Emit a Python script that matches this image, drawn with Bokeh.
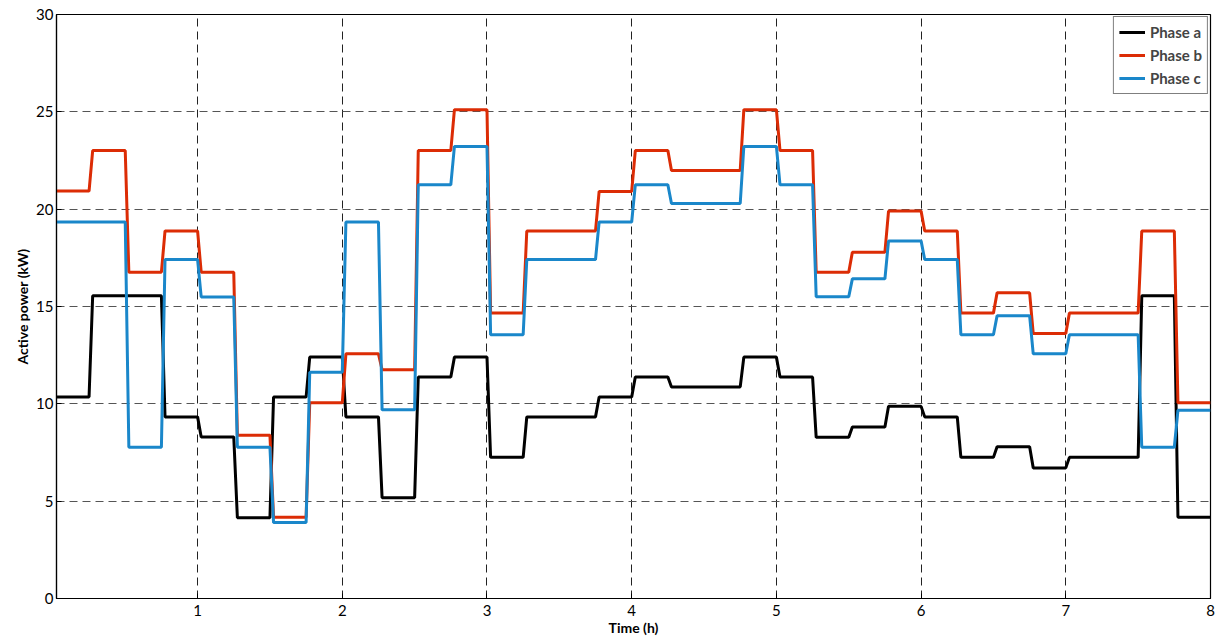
from bokeh.plotting import figure
from bokeh.models import Range1d, FixedTicker, Legend, LegendItem
from bokeh.embed import file_html
from bokeh.resources import INLINE

# quarter-hour intervals, 0..8 h
interval_start = [i * 0.25 for i in range(32)]
phase_a = [10.35, 15.55, 15.55, 9.33, 8.30, 4.15, 10.35, 12.40,
           9.33, 5.18, 11.38, 12.40, 7.25, 9.33, 9.33, 10.35,
           11.38, 10.87, 10.87, 12.40, 11.38, 8.28, 8.81, 9.87,
           9.33, 7.25, 7.79, 6.71, 7.25, 7.25, 15.55, 4.17]
phase_b = [20.93, 23.01, 16.76, 18.88, 16.76, 8.39, 4.18, 10.05,
           12.57, 11.75, 23.01, 25.11, 14.66, 18.88, 18.88, 20.91,
           23.01, 21.99, 21.99, 25.11, 23.01, 16.76, 17.79, 19.90,
           18.88, 14.66, 15.70, 13.61, 14.66, 14.66, 18.88, 10.05]
phase_c = [19.34, 19.34, 7.77, 17.41, 15.49, 7.77, 3.90, 11.62,
           19.34, 9.69, 21.25, 23.22, 13.55, 17.41, 17.41, 19.34,
           21.25, 20.29, 20.29, 23.22, 21.25, 15.50, 16.42, 18.37,
           17.41, 13.55, 14.52, 12.57, 13.55, 13.55, 7.77, 9.67]
series_names = ["Phase a", "Phase b", "Phase c"]
colors = ["#000000", "#DC2C05", "#1A87CA"]
x_ticks = [1, 2, 3, 4, 5, 6, 7, 8]
y_ticks = [0, 5, 10, 15, 20, 25, 30]

STEP = 0.25
RAMP = 0.025


def stepped(starts, vals):
    xs, ys = [], []
    for t, v in zip(starts, vals):
        xs += [t + RAMP, t + STEP]
        ys += [v, v]
    return xs, ys


FONT = "Lato"

p = figure(width=1216, height=638, output_backend="svg", toolbar_location=None,
           x_range=Range1d(0.025, 8), y_range=Range1d(0, 30),
           min_border_left=56, min_border_right=6, min_border_top=14, min_border_bottom=38)
p.outline_line_color = "black"
p.outline_line_width = 1.2

renderers = []
for vals, col in zip([phase_a, phase_b, phase_c], colors):
    xs, ys = stepped(interval_start, vals)
    r = p.line(xs, ys, line_color=col, line_width=3)
    renderers.append(r)

for ax in (p.xaxis[0], p.yaxis[0]):
    ax.major_tick_in = 5
    ax.major_tick_out = 0
    ax.minor_tick_in = 0
    ax.minor_tick_out = 0
    ax.axis_line_color = "black"
    ax.axis_line_width = 1.2
    ax.major_tick_line_color = "black"
    ax.major_label_text_font = FONT
    ax.major_label_text_font_size = "15px"
    ax.major_label_text_color = "black"
    ax.axis_label_text_font = FONT
    ax.axis_label_text_font_style = "bold"
    ax.axis_label_text_font_size = "14px"
    ax.axis_label_text_color = "black"

p.xaxis.ticker = FixedTicker(ticks=x_ticks)
p.yaxis.ticker = FixedTicker(ticks=y_ticks)
p.xaxis.axis_label = "Time (h)"
p.yaxis.axis_label = "Active power (kW)"
p.xaxis.major_label_standoff = 6
p.xaxis.axis_label_standoff = 0
p.yaxis.major_label_standoff = 3
p.yaxis.axis_label_standoff = 2

p.xgrid.ticker = FixedTicker(ticks=x_ticks)
p.ygrid.ticker = FixedTicker(ticks=y_ticks)
for g in (p.xgrid[0], p.ygrid[0]):
    g.grid_line_color = "#222222"
    g.grid_line_dash = "8 5"
    g.grid_line_width = 1
p.ygrid[0].grid_line_color = "#555555"

legend = Legend(items=[LegendItem(label=n, renderers=[r]) for n, r in zip(series_names, renderers)],
                location="top_right")
legend.border_line_color = "black"
legend.border_line_width = 1.2
legend.label_text_font = FONT
legend.label_text_font_style = "bold"
legend.label_text_font_size = "15px"
legend.glyph_width = 26
legend.glyph_height = 20
legend.label_height = 20
legend.label_standoff = 5
legend.spacing = 3
legend.padding = 5
legend.margin = 2
p.add_layout(legend)

open("out.html", "w").write(file_html(p, INLINE))
